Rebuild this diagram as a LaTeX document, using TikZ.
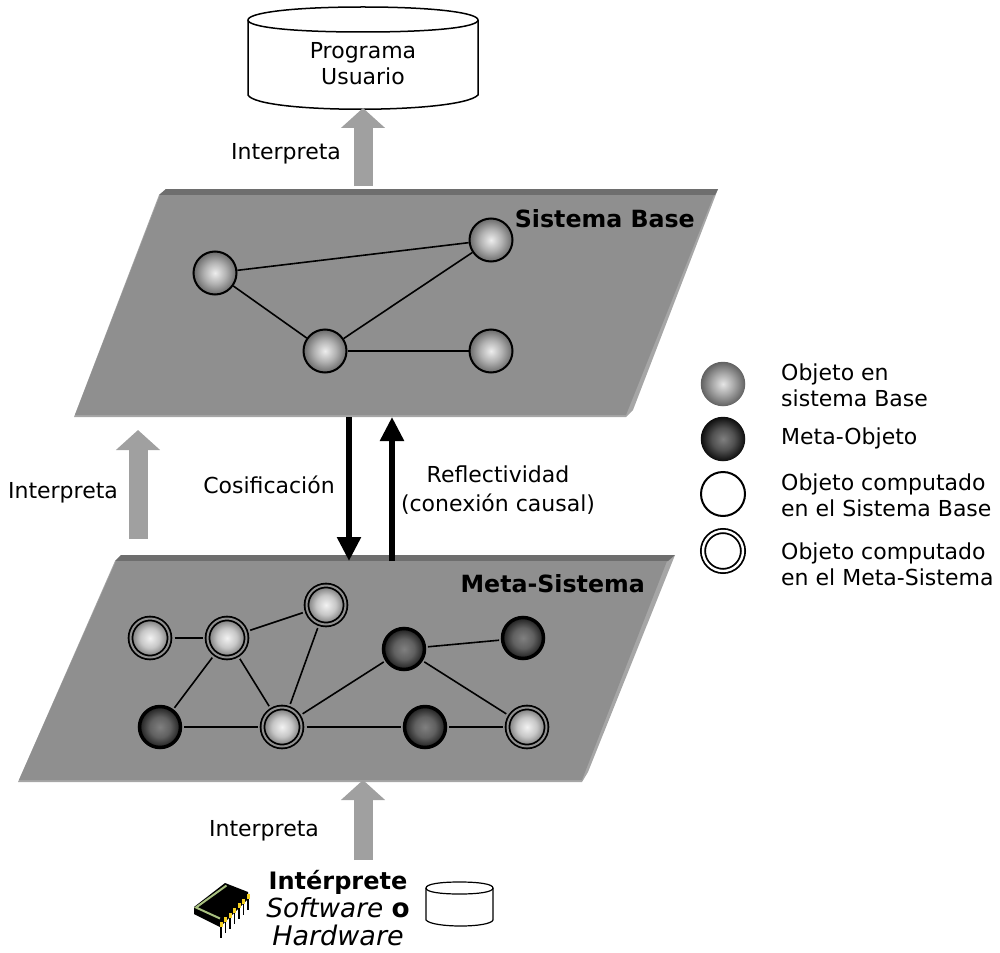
\documentclass[tikz,border=0pt]{standalone}
\usepackage{fontspec}
\setmainfont{DejaVu Sans}
\usetikzlibrary{arrows.meta}
\definecolor{plate}{HTML}{8F8F8F}
\definecolor{platetop}{HTML}{6E6E6E}
\definecolor{plateedge}{HTML}{A6A6A6}
\definecolor{blockarrow}{HTML}{A0A0A0}
\definecolor{chipgreen}{HTML}{A8C080}
\definecolor{chippin}{HTML}{F5D020}
\pgfdeclareradialshading{lightball}{\pgfpoint{0bp}{0bp}}{color(0bp)=(black!7); color(12.5bp)=(black!30); color(25bp)=(black!58); color(50bp)=(black!58)}
\pgfdeclareradialshading{brightball}{\pgfpoint{0bp}{0bp}}{color(0bp)=(black!5); color(12.5bp)=(black!22); color(25bp)=(black!55); color(50bp)=(black!55)}
\pgfdeclareradialshading{legendlight}{\pgfpoint{0bp}{0bp}}{color(0bp)=(black!10); color(12.5bp)=(black!35); color(25bp)=(black!62); color(50bp)=(black!62)}
\pgfdeclareradialshading{darkball}{\pgfpoint{0bp}{0bp}}{color(0bp)=(black!50); color(12.5bp)=(black!62); color(25bp)=(black!88); color(50bp)=(black!88)}
\pgfdeclareradialshading{legenddark}{\pgfpoint{0bp}{0bp}}{color(0bp)=(black!50); color(12.5bp)=(black!68); color(25bp)=(black!95); color(50bp)=(black!95)}
\tikzset{
  basenode/.style={circle,inner sep=0pt,minimum size=43pt,draw=black,line width=2pt,shade,shading=lightball},
  metanode/.style={circle,inner sep=0pt,minimum size=41pt,draw=black,line width=3.5pt,outer sep=3.5pt,shade,shading=darkball},
  dblnode/.style={circle,inner sep=0pt,minimum size=39pt,draw=black,line width=1.8pt,double=plate,double distance=2pt,outer sep=5pt,shade,shading=brightball},
  legendball/.style={circle,inner sep=0pt,minimum size=44.5pt,shade},
  link/.style={draw=black,line width=1.6pt},
  interp/.style={line width=19pt,draw=blockarrow,-{Triangle[width=43pt,length=20pt,fill=blockarrow]}},
  causal/.style={line width=5.5pt,draw=black,-{Triangle[width=23pt,length=24pt]}},
  txt/.style={font=\fontsize{22}{26}\selectfont,inner sep=0pt,align=left},
  lbl/.style={txt,anchor=west},
  can/.style={draw=black,line width=1.5pt,fill=white,line join=round},
  platetitle/.style={font=\fontsize{23.7}{26}\selectfont\bfseries,inner sep=0pt,anchor=east}
}
\begin{document}
\begin{tikzpicture}[x=1pt,y=-1pt]
\useasboundingbox (0,0) rectangle (1000,952);
% cylinder top
\draw[can] (248,20) -- (248,95) .. controls (258,114) and (460,114) .. (478,95) -- (478,20);
\draw[can] (363,7) .. controls (290,7) and (248,13) .. (248,20) .. controls (248,27) and (290,32) .. (363,32) .. controls (436,32) and (478,27) .. (478,20) .. controls (478,13) and (436,7) .. (363,7) -- cycle;
\node[txt,align=center] (prog) at (363,64) {Programa\\Usuario};
\coordinate (progbase) at (363,108);
\coordinate (basetop) at (363,186);
\draw[interp] (basetop) -- (progbase);
\node[txt] (i1) at (286,154) {Interpreta};
% Base plate
\fill[plateedge] (159,195) -- (166,189) -- (718,189) -- (633,410) -- (626,417) -- (74,417) -- cycle;
\fill[platetop] (159,195) -- (166,189) -- (718,189) -- (715,195) -- cycle;
\fill[plate] (160,195) -- (714,195) -- (626,415) -- (75,415) -- cycle;
\node[platetitle] (bt) at (695,219) {Sistema Base};
\node[basenode] (b1) at (215,273) {};
\node[basenode] (b2) at (491,240) {};
\node[basenode] (b3) at (325,351) {};
\node[basenode] (b4) at (491,351) {};
\draw[link] (b1) -- (b2);
\draw[link] (b1) -- (b3);
\draw[link] (b3) -- (b2);
\draw[link] (b3) -- (b4);
% Meta plate
\fill[plateedge] (115,561) -- (121,555) -- (675,555) -- (588,772) -- (582,782) -- (18,782) -- cycle;
\fill[platetop] (115,561) -- (121,555) -- (675,555) -- (668,561) -- cycle;
\fill[plate] (116,561) -- (667,561) -- (582,780) -- (19,780) -- cycle;
\node[platetitle] (mt) at (645,584) {Meta-Sistema};
\node[dblnode] (m1) at (150,638) {};
\node[dblnode] (m2) at (227,638) {};
\node[dblnode] (m3) at (326,605) {};
\node[metanode] (m4) at (404,649) {};
\node[metanode] (m5) at (523,638) {};
\node[metanode] (m6) at (160,727) {};
\node[dblnode] (m7) at (282,727) {};
\node[metanode] (m8) at (425,727) {};
\node[dblnode] (m9) at (527,727) {};
\draw[link] (m1) -- (m2);
\draw[link] (m2) -- (m3);
\draw[link] (m2) -- (m6);
\draw[link] (m2) -- (m7);
\draw[link] (m3) -- (m7);
\draw[link] (m4) -- (m7);
\draw[link] (m4) -- (m5);
\draw[link] (m4) -- (m9);
\draw[link] (m6) -- (m7);
\draw[link] (m7) -- (m8);
\draw[link] (m8) -- (m9);
% Interpreta arrows
\coordinate (a) at (138,539);
\coordinate (b) at (138,430);
\draw[interp] (a) -- (b);
\node[txt] (i2) at (63,493) {Interpreta};
\coordinate (c) at (363,860);
\coordinate (d) at (363,780);
\draw[interp] (c) -- (d);
\node[txt] (i3) at (264,831) {Interpreta};
% causal arrows
\coordinate (e) at (349,417);
\coordinate (f) at (349,561);
\coordinate (g) at (392,561);
\coordinate (h) at (392,417);
\draw[causal] (e) -- (f);
\draw[causal] (g) -- (h);
\node[txt] (cos) at (269,485) {Cosificación};
\node[txt,align=center,font=\fontsize{22}{29}\selectfont] (ref) at (498,490) {Reflectividad\\(conexión causal)};
% Legend
\node[legendball,shading=legendlight] (l1) at (723,384) {};
\node[legendball,shading=legenddark] (l2) at (723,439) {};
\node[circle,minimum size=44pt,inner sep=0pt,draw=black,line width=2pt,fill=white] (l3) at (723,494) {};
\node[circle,minimum size=40pt,inner sep=0pt,draw=black,line width=1.8pt,double=white,double distance=2.4pt,fill=white] (l4) at (723,551) {};
\node[lbl] (t1) at (781,385) {Objeto en\\sistema Base};
\node[lbl] (t2) at (781,438) {Meta-Objeto};
\node[lbl] (t3) at (781,495) {Objeto computado\\en el Sistema Base};
\node[lbl] (t4) at (781,564) {Objeto computado\\en el Meta-Sistema};
% Interpreter
\node[txt,align=center,font=\fontsize{25}{28}\selectfont] (it) at (338,908) {\fontsize{24}{28}\selectfont\textbf{Intérprete}\\\fontsize{26.3}{28}\selectfont\textit{Software} \textbf{o}\\\fontsize{27}{28}\selectfont\textit{Hardware}};
\draw[can,line width=1.2pt] (426,888) -- (426,920) .. controls (432,928) and (490,928) .. (493,920) -- (493,888);
\draw[can,line width=1.2pt] (459.5,882) .. controls (440,882) and (426,884) .. (426,888) .. controls (426,892) and (440,894) .. (459.5,894) .. controls (479,894) and (493,892) .. (493,888) .. controls (493,884) and (479,882) .. (459.5,882) -- cycle;
% chip
\fill[black] (194,907) -- (225,883) -- (248,892) -- (248,899) -- (220,927) -- (194,914) -- cycle;
\draw[chipgreen,line width=2pt] (226.5,885.5) -- (196,907.5) -- (220,918.5);
\foreach \i in {0,...,6}{
  \draw[black,line width=1.4pt] ({221+\i*4.5},{925-\i*4.7}) -- ({221+\i*4.5},{938-\i*4.7});
  \fill[chippin] ({219.5+\i*4.5},{922-\i*4.7}) rectangle ({222.5+\i*4.5},{927-\i*4.7});
}
\end{tikzpicture}
\end{document}
